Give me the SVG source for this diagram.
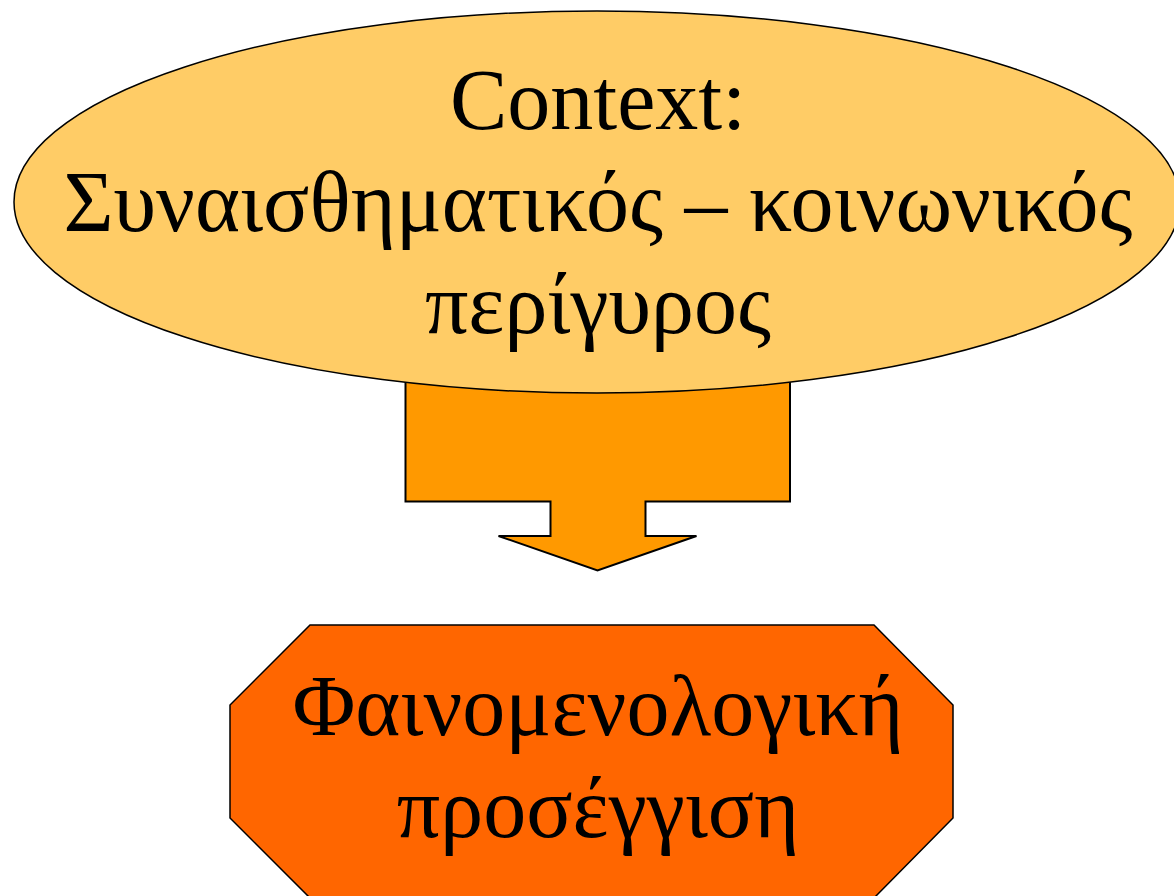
<svg xmlns="http://www.w3.org/2000/svg" width="1174" height="896" viewBox="0 0 1174 896">
<style>
.t{font-family:"Liberation Serif","Times New Roman",serif;font-size:86px;fill:#000;text-anchor:middle}
</style>
<rect width="1174" height="896" fill="#fff"/>
<g id="connectors">
<path d="M405.5,380 H790 V501.5 H645.5 V536 H696.5 L597.5,570.5 L498.5,536 H550.5 V501.5 H405.5 Z" fill="#FF9900" stroke="#000" stroke-width="2"/>
</g>
<g id="context">
<ellipse cx="597" cy="202" rx="583" ry="191" fill="#FFCC66" stroke="#000" stroke-width="1.5"/>
<text class="t" x="598" y="129">Context:</text>
<text class="t" x="598" y="231">Συναισθηματικός – κοινωνικός</text>
<text class="t" x="598" y="333">περίγυρος</text>
</g>
<g id="approach">
<polygon points="310,625 874,625 953,705 953,818 874,898 310,898 230,818 230,705" fill="#FF6600" stroke="#000" stroke-width="1.5"/>
<text class="t" x="598" y="735">Φαινομενολογική</text>
<text class="t" x="598" y="837">προσέγγιση</text>
</g>
</svg>
